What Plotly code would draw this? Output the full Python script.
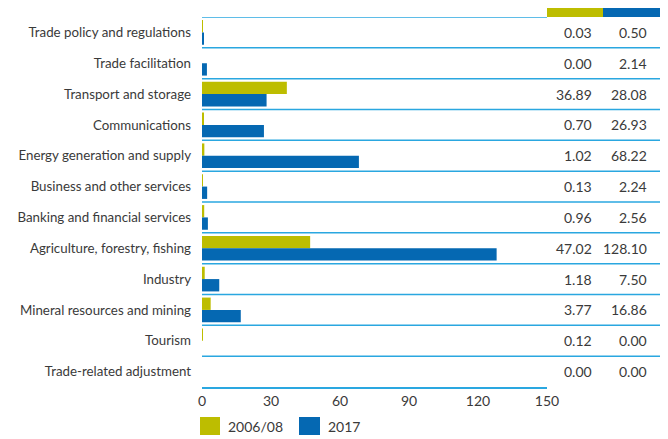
import plotly.graph_objects as go

categories = [
    "Trade policy and regulations", "Trade facilitation", "Transport and storage",
    "Communications", "Energy generation and supply", "Business and other services",
    "Banking and financial services", "Agriculture, forestry, fishing", "Industry",
    "Mineral resources and mining", "Tourism", "Trade-related adjustment",
]
v2006 = [0.03, 0.00, 36.89, 0.70, 1.02, 0.13, 0.96, 47.02, 1.18, 3.77, 0.12, 0.00]
v2017 = [0.50, 2.14, 28.08, 26.93, 68.22, 2.24, 2.56, 128.10, 7.50, 16.86, 0.00, 0.00]
series_names = ["2006/08", "2017"]
x_ticks = [0, 30, 60, 90, 120, 150]

OLIVE = "#bdbd00"
BLUE = "#0568b2"
LINE = "#2aa7e0"
TXT = "#3a3a3a"
FONT = "Lato"

# page has an 8px body margin
OFF = 8
W, H = 668 - OFF, 439 - OFF


def px(x):
    return (x - OFF) / W


def py(y):
    return (H - (y - OFF)) / H


x0p, x1p = px(202), px(547)
y_bot, y_top = py(387), py(17)

fig = go.Figure()
fig.add_trace(go.Bar(y=categories, x=v2006, orientation="h", name=series_names[0],
                     marker=dict(color=OLIVE, line=dict(width=0))))
fig.add_trace(go.Bar(y=categories, x=v2017, orientation="h", name=series_names[1],
                     marker=dict(color=BLUE, line=dict(width=0))))

shapes = []
n = len(categories)
for i in range(n - 1):
    shapes.append(dict(type="line", xref="paper", yref="y", x0=x0p, x1=px(660),
                       y0=i + 0.5, y1=i + 0.5, line=dict(color=LINE, width=1.5)))
shapes.append(dict(type="line", xref="paper", yref="y", x0=x0p, x1=x1p,
                   y0=-0.5, y1=-0.5, line=dict(color=LINE, width=1.5)))
shapes.append(dict(type="rect", xref="paper", yref="paper", x0=px(547), x1=px(603),
                   y0=y_top, y1=1, fillcolor=OLIVE, line=dict(width=0)))
shapes.append(dict(type="rect", xref="paper", yref="paper", x0=px(603), x1=px(660),
                   y0=y_top, y1=1, fillcolor=BLUE, line=dict(width=0)))
shapes.append(dict(type="rect", xref="paper", yref="paper", x0=px(200), x1=px(220),
                   y0=py(435), y1=py(417), fillcolor=OLIVE, line=dict(width=0)))
shapes.append(dict(type="rect", xref="paper", yref="paper", x0=px(299), x1=px(320),
                   y0=py(435), y1=py(417), fillcolor=BLUE, line=dict(width=0)))

nf = dict(size=14, color=TXT, family=FONT)
lf = dict(size=13.3, color=TXT, family=FONT)
annotations = []
for i, c in enumerate(categories):
    annotations.append(dict(xref="paper", yref="y", x=px(594), y=c, text=f"{v2006[i]:.2f}",
                            xanchor="right", showarrow=False, font=nf))
    annotations.append(dict(xref="paper", yref="y", x=px(649), y=c, text=f"{v2017[i]:.2f}",
                            xanchor="right", showarrow=False, font=nf))
annotations.append(dict(xref="paper", yref="paper", x=px(226), y=py(426), text=series_names[0],
                        xanchor="left", yanchor="middle", showarrow=False, font=nf))
annotations.append(dict(xref="paper", yref="paper", x=px(326), y=py(426), text=series_names[1],
                        xanchor="left", yanchor="middle", showarrow=False, font=nf))

fig.update_layout(
    width=W, height=H,
    margin=dict(l=0, r=0, t=0, b=0, autoexpand=False),
    paper_bgcolor="white", plot_bgcolor="white",
    barmode="group", bargap=0.2, bargroupgap=0,
    showlegend=False,
    font=nf,
    shapes=shapes, annotations=annotations,
    xaxis=dict(domain=[x0p, x1p], range=[0, 150], tickvals=x_ticks, showgrid=False,
               zeroline=False, showline=True, linecolor=LINE, linewidth=1.5,
               ticks="", tickfont=nf, automargin=False),
    yaxis=dict(domain=[y_bot, y_top], range=[n - 0.5, -0.5], showgrid=False,
               zeroline=False, showline=False, ticks="", ticklabelstandoff=10,
               tickfont=lf, automargin=False),
)

fig.write_html("out.html")
